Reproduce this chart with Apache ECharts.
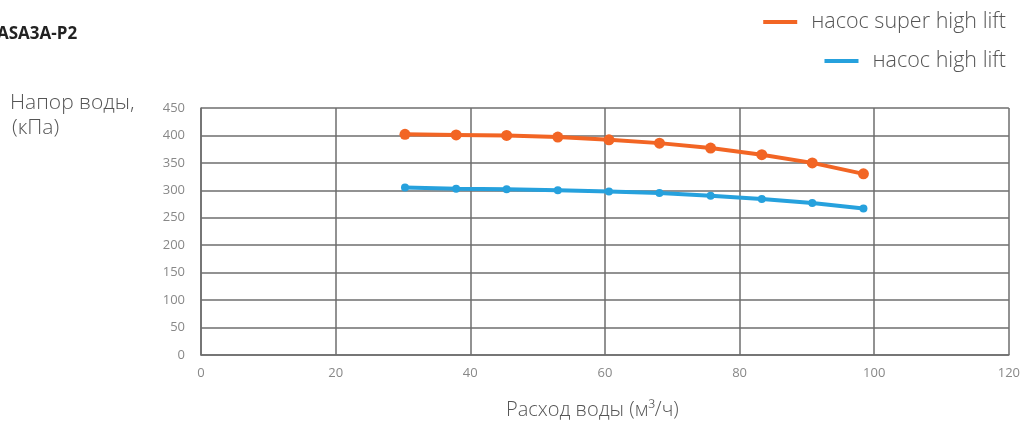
<!DOCTYPE html>
<html><head><meta charset="utf-8">
<script src="https://cdn.jsdelivr.net/npm/echarts@6/dist/echarts.min.js"></script>
<style>html,body{margin:0;padding:0;background:#fff}#c{width:1023px;height:426px}</style>
</head><body><div id="c"></div>
<script>
var titleText = 'ASA3A-P2';
var yName = ['Напор воды,', '(кПа)'];
var xName = 'Расход воды (м³/ч)';
var seriesNames = ['насос super high lift', 'насос high lift'];
var flow = [30.3, 37.9, 45.4, 53.0, 60.6, 68.1, 75.7, 83.3, 90.8, 98.4];
var superHigh = [402, 401, 400, 397, 392, 386, 377, 365, 350, 330];
var high = [305, 303, 302, 300, 298, 295, 290, 284, 277, 267];

function pairs(xs, ys){ return xs.map(function(x,i){ return [x, ys[i]]; }); }

var font = '"Open Sans", "DejaVu Sans", sans-serif';
var chart = echarts.init(document.getElementById('c'));
chart.setOption({
  animation: false,
  title: { text: titleText, left: -8, top: 21, textStyle: { fontFamily: font, fontWeight: 'bold', fontSize: 17, color: '#222' } },
  legend: [
    { data: [seriesNames[0]], right: 12, top: 6, itemWidth: 34, itemHeight: 4, itemGap: 10,
      icon: 'rect', textStyle: { fontFamily: font, fontWeight: 300, fontSize: 21.5, color: '#555', padding: [0,0,0,9] } },
    { data: [seriesNames[1]], right: 12, top: 45, itemWidth: 34, itemHeight: 4, itemGap: 10,
      icon: 'rect', textStyle: { fontFamily: font, fontWeight: 300, fontSize: 21.5, color: '#555', padding: [0,0,0,9] } }
  ],
  graphic: [
    { type: 'text', left: 10, top: 93, style: { text: yName[0], font: '300 21px ' + font, fill: '#555' } },
    { type: 'text', left: 12, top: 118, style: { text: yName[1], font: '300 21px ' + font, fill: '#555' } },
    { type: 'text', left: 506, top: 400, style: { text: xName, font: '300 20px ' + font, fill: '#555' } }
  ],
  grid: { left: 201, right: 11, top: 108, bottom: 71 },
  xAxis: {
    type: 'value', min: 0, max: 120, interval: 20,
    axisLine: { show: true, lineStyle: { color: '#6e6e6e', width: 1.5 } },
    axisTick: { show: false },
    axisLabel: { margin: 12, fontFamily: font, fontSize: 13, color: '#888' },
    splitLine: { show: true, lineStyle: { color: '#6e6e6e', width: 1.5 } }
  },
  yAxis: {
    type: 'value', min: 0, max: 450, interval: 50,
    axisLine: { show: true, lineStyle: { color: '#6e6e6e', width: 1.5 } },
    axisTick: { show: false },
    axisLabel: { margin: 16, fontFamily: font, fontSize: 13, color: '#888' },
    splitLine: { show: true, lineStyle: { color: '#6e6e6e', width: 1.5 } }
  },
  series: [
    { name: seriesNames[0], type: 'line', data: pairs(flow, superHigh), smooth: false,
      symbol: 'circle', symbolSize: 11, lineStyle: { width: 4, color: '#F26524' }, itemStyle: { color: '#F26524' } },
    { name: seriesNames[1], type: 'line', data: pairs(flow, high), smooth: false,
      symbol: 'circle', symbolSize: 8, lineStyle: { width: 4, color: '#26A1DD' }, itemStyle: { color: '#26A1DD' } }
  ]
});
</script></body></html>
